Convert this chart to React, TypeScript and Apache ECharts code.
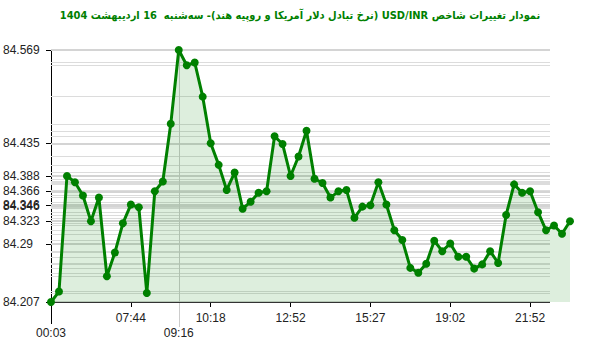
import React, { useEffect, useRef } from "react";
import * as echarts from "echarts";

const titleText =
  "نمودار تغییرات شاخص USD/INR (نرخ تبادل دلار آمریکا و روپیه هند)- سه‌شنبه  16 اردیبهشت 1404";

const times = [
  "00:03", "01:12", "02:05", "03:10", "04:02", "04:48", "05:30", "06:12", "06:41", "07:15",
  "07:44", "07:58", "08:14", "08:29", "08:44", "09:01", "09:16", "09:31", "09:46", "10:02",
  "10:18", "10:33", "10:48", "11:03", "11:18", "11:34", "11:49", "12:04", "12:20", "12:36",
  "12:52", "13:07", "13:22", "13:38", "13:53", "14:09", "14:24", "14:40", "14:56", "15:11",
  "15:27", "15:48", "16:10", "16:31", "16:53", "17:14", "17:36", "17:57", "18:19", "18:40",
  "19:02", "19:19", "19:36", "19:53", "20:10", "20:27", "20:44", "21:01", "21:18", "21:35",
  "21:52", "22:09", "22:26", "22:43", "23:00", "23:17",
];

const values = [
  84.207, 84.222, 84.388, 84.379, 84.36, 84.323, 84.357, 84.244, 84.278, 84.32,
  84.347, 84.343, 84.22, 84.366, 84.38, 84.463, 84.569, 84.547, 84.551, 84.502,
  84.435, 84.404, 84.368, 84.393, 84.341, 84.351, 84.364, 84.366, 84.445, 84.434,
  84.388, 84.416, 84.453, 84.384, 84.378, 84.357, 84.366, 84.368, 84.328, 84.344,
  84.346, 84.379, 84.347, 84.31, 84.296, 84.256, 84.249, 84.262, 84.295, 84.28,
  84.291, 84.272, 84.272, 84.255, 84.261, 84.28, 84.263, 84.332, 84.376, 84.364,
  84.366, 84.336, 84.31, 84.317, 84.305, 84.323,
];

const yTicks = [84.207, 84.29, 84.323, 84.3456, 84.3464, 84.366, 84.388, 84.435, 84.569];
const xMainLabelIdx = [10, 20, 30, 40, 50, 60];
const xLowLabelIdx = [0, 16];
const yMin = 84.207;
const yMax = 84.569;

export default function App() {
  const ref = useRef<HTMLDivElement>(null);

  useEffect(() => {
    if (!ref.current) return;
    const chart = echarts.init(ref.current, null, { renderer: "svg" });

    const uniq = Array.from(new Set(values));
    const gridLines: any[] = uniq.map((v) => [
      { xAxis: 0, yAxis: v },
      { x: 550, yAxis: v },
    ]);
    const tickLines: any[] = yTicks.map((v) => [
      { xAxis: 0, yAxis: v, lineStyle: { color: "#d4d4d4", width: 2 } },
      { x: 550, yAxis: v },
    ]);
    const decor: any[] = [
      [
        { xAxis: 16, y: 50, lineStyle: { color: "#cccccc", width: 1 } },
        { xAxis: 16, y: 327 },
      ],
      [
        { xAxis: 0, yAxis: yMin, lineStyle: { color: "#333", width: 1 } },
        { x: 550, yAxis: yMin },
      ],
    ];

    const option: any = {
      animation: false,
      backgroundColor: "#fff",
      title: {
        text: "\u202B" + titleText + "\u202C",
        left: "center",
        top: 5,
        textStyle: {
          fontSize: 11,
          fontWeight: "bold",
          color: "#008000",
          fontFamily: "'DejaVu Sans Condensed', 'DejaVu Sans'",
        },
      },
      grid: { left: 50, right: 30, top: 50, bottom: 50 },
      xAxis: [
        {
          type: "category",
          data: times,
          boundaryGap: false,
          position: "bottom",
          axisLine: { show: false },
          axisTick: {
            show: true,
            length: 5,
            interval: (i: number) => xMainLabelIdx.includes(i),
            lineStyle: { color: "#000" },
          },
          axisLabel: {
            interval: (i: number) => xMainLabelIdx.includes(i),
            margin: 10,
            color: "#222",
            fontSize: 12,
            fontFamily: "Liberation Sans",
          },
          splitLine: { show: false },
        },
        {
          type: "category",
          data: times,
          boundaryGap: false,
          position: "bottom",
          axisLine: { show: false },
          axisTick: {
            show: true,
            length: 22,
            interval: (i: number) => i === 0,
            lineStyle: { color: "#000" },
          },
          axisLabel: {
            interval: (i: number) => xLowLabelIdx.includes(i),
            margin: 25,
            color: "#222",
            fontSize: 12,
            fontFamily: "Liberation Sans",
          },
          splitLine: { show: false },
        },
      ],
      yAxis: {
        type: "value",
        min: yMin,
        max: yMax,
        splitLine: { show: false },
        axisLine: { show: true, lineStyle: { color: "#000" } },
        axisTick: {
          show: true,
          length: 5,
          customValues: yTicks,
          lineStyle: { color: "#000" },
        },
        axisLabel: {
          customValues: yTicks,
          align: "left",
          margin: 48,
          color: "#222",
          fontSize: 12,
          fontFamily: "Liberation Sans",
          formatter: (v: number) => String(parseFloat(v.toFixed(3))),
        },
      },
      series: [
        {
          type: "line",
          data: values,
          xAxisIndex: 0,
          symbol: "circle",
          symbolSize: 8,
          showAllSymbol: true,
          lineStyle: { color: "#008000", width: 3 },
          itemStyle: { color: "#008000" },
          areaStyle: { color: "rgba(0,128,0,0.19)" },
          z: 2,
          markLine: {
            silent: true,
            z: 1,
            symbol: ["none", "none"],
            label: { show: false },
            animation: false,
            lineStyle: { color: "#dcdcdc", width: 1, type: "solid" },
            data: [...gridLines, ...tickLines, ...decor],
          },
        },
      ],
    };

    chart.setOption(option);
    return () => chart.dispose();
  }, []);

  return (
    <div
      ref={ref}
      style={{ width: 600, height: 352, position: "absolute", left: 0, top: 0 }}
    />
  );
}
